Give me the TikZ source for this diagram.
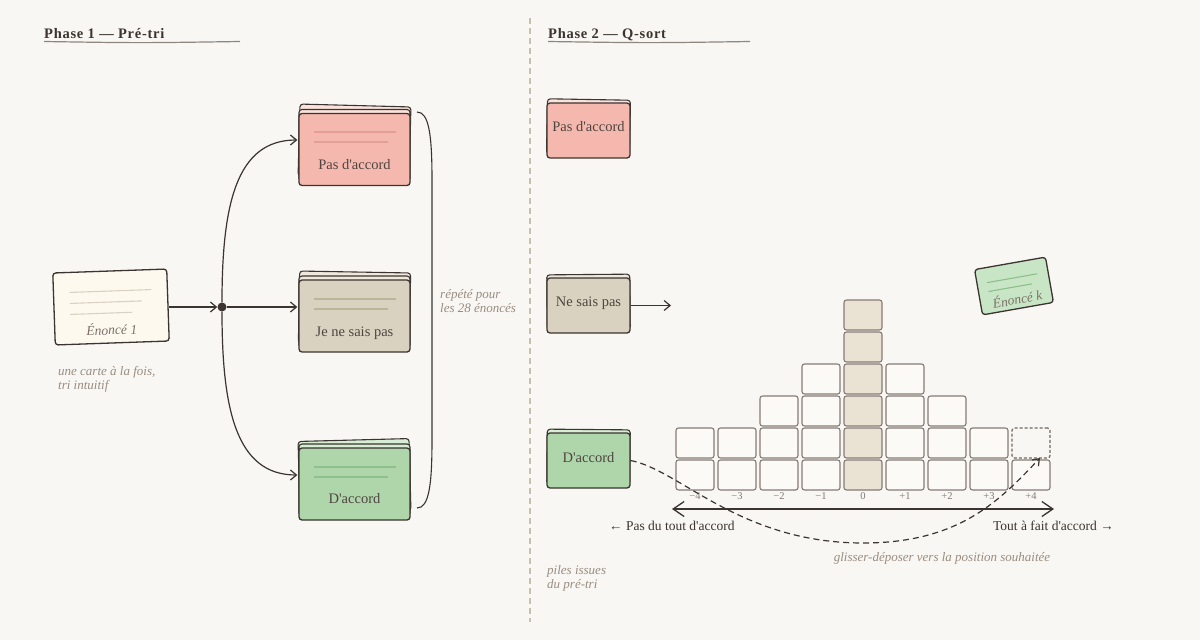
\documentclass[tikz,border=0pt]{standalone}
\usepackage{fontspec}
\setmainfont{Liberation Serif}[Ligatures=TeXOff]
\newfontfamily\headfont[LetterSpace=5,Ligatures=TeXOff]{Liberation Serif}
\usetikzlibrary{arrows.meta,calc}
\definecolor{bg}{HTML}{F8F7F3}
\definecolor{ink}{HTML}{3B3430}
\definecolor{txt}{HTML}{4E4540}
\definecolor{muted}{HTML}{9A8C80}
\definecolor{rulec}{HTML}{8E867F}
\definecolor{sepc}{HTML}{C4C1AC}
\definecolor{pinkF}{HTML}{F5B8AE}
\definecolor{pinkB}{HTML}{FBE2DC}
\definecolor{pinkL}{HTML}{E4A096}
\definecolor{beigeF}{HTML}{D9D2C0}
\definecolor{beigeB}{HTML}{EEE9DC}
\definecolor{beigeL}{HTML}{BDB599}
\definecolor{greenF}{HTML}{AFD5AB}
\definecolor{greenB}{HTML}{D7EDD4}
\definecolor{greenL}{HTML}{8DC08A}
\definecolor{ivory}{HTML}{FDF9EF}
\definecolor{ivoryL}{HTML}{D8D2C2}
\definecolor{gridD}{HTML}{857C75}
\definecolor{cellF}{HTML}{FBFAF7}
\definecolor{zeroF}{HTML}{EAE3D4}
\definecolor{kF}{HTML}{C8E6C5}
\definecolor{kL}{HTML}{8DBF8B}
\definecolor{etxt}{HTML}{7B716A}
\tikzset{
  cardA/.style={draw=ink, line width=1.3pt, rounded corners=3pt, minimum width=111pt, minimum height=72pt, inner sep=0pt},
  cardBk/.style={cardA, line width=1.1pt},
  cardB/.style={cardA, minimum width=83pt, minimum height=55pt},
  cardBb/.style={cardB, line width=1.1pt},
  deco/.style={line width=1.1pt},
  ctext/.style={text=txt, font=\fontsize{14.5}{16}\selectfont, inner sep=0pt},
  note/.style={text=muted, font=\fontsize{13}{14}\selectfont\itshape, align=left, inner sep=0pt, anchor=north west},
  arr/.style={draw=ink, line width=1.2pt, -{Straight Barb[length=6pt,width=10pt]}},
  arrtwo/.style={draw=ink, line width=1.3pt, {Straight Barb[length=11pt,width=15pt]}-{Straight Barb[length=11pt,width=15pt]}},
  dragarr/.style={draw=ink, line width=1.2pt, dash pattern=on 6pt off 4pt, -{Straight Barb[length=6pt,width=9pt]}},
  cell/.style={draw=gridD, line width=1.1pt, rounded corners=2.5pt, fill=cellF, minimum width=38pt, minimum height=30pt, inner sep=0pt},
  glab/.style={text=gridD, font=\fontsize{10.5}{12}\selectfont, inner sep=0pt},
  head/.style={text=ink, font={\headfont\bfseries\fontsize{14.5}{17}\selectfont}, inner sep=0pt, anchor=base west},
  axtext/.style={text=ink, font=\fontsize{13.5}{15}\selectfont, inner sep=0pt},
}
\begin{document}
\begin{tikzpicture}[x=1pt,y=-1pt]
\useasboundingbox (0,0) rectangle (1200,640);
\fill[bg] (0,0) rectangle (1200,640);

% separator
\draw[sepc, line width=1.5pt, dash pattern=on 6pt off 4pt] (530,18) -- (530,622);

% headers
\node[head] (h1) at (44,38) {Phase 1 — Pré-tri};
\draw[rulec, line width=1.2pt] (44,41.5) .. controls (140,43) .. (240,41.5);
\node[head] (h2) at (548,38) {Phase 2 — Q-sort};
\draw[rulec, line width=1.2pt] (548,41.5) .. controls (650,43) .. (750,41.5);

% ===== Phase 1 =====
\begin{scope}[shift={(111,307)}, rotate=2, transform shape]
  \node[cardA, fill=ivory, minimum width=114pt, minimum height=72pt] (e1) at (0,0) {};
  \draw[ivoryL, deco] (-41,-16) -- (41,-16);
  \draw[ivoryL, deco] (-41,-5) -- (31,-5);
  \draw[ivoryL, deco] (-41,6) -- (21,6);
  \node[ctext, text=etxt, font=\fontsize{13.5}{15}\selectfont\itshape] (e1t) at (0,22) {Énoncé 1};
\end{scope}

\node[note] (n1) at (58,366) {une carte à la fois,\\tri intuitif};

% stacks
\node[cardBk, fill=pinkB, rotate=-1.5] (paB2) at (354.5,141.5) {};
\node[cardBk, fill=pinkB] (paB1) at (354.5,145.5) {};
\node[cardA, fill=pinkF] (pa) at (354.5,149.5) {};
\draw[pinkL, deco] (314,132) -- (396,132);
\draw[pinkL, deco] (314,142) -- (388,142);
\node[ctext] (pat) at (354.5,165) {Pas d'accord};

\node[cardBk, fill=beigeB, rotate=-1] (nsB2) at (354.5,308) {};
\node[cardBk, fill=beigeB] (nsB1) at (354.5,312) {};
\node[cardA, fill=beigeF] (ns) at (354.5,316) {};
\draw[beigeL, deco] (314,299) -- (396,299);
\draw[beigeL, deco] (314,309) -- (388,309);
\node[ctext] (nst) at (354.5,333) {Je ne sais pas};

\node[cardBk, fill=greenB, rotate=1.5] (daB2) at (354.5,476) {};
\node[cardBk, fill=greenB] (daB1) at (354.5,480) {};
\node[cardA, fill=greenF] (da) at (354.5,484) {};
\draw[greenL, deco] (314,467) -- (396,467);
\draw[greenL, deco] (314,477) -- (388,477);
\node[ctext] (dat) at (354.5,499) {D'accord};

% hub and arrows
\node[circle, fill=ink, inner sep=0pt, minimum size=9pt] (hub) at (222,307) {};
\coordinate (e1out) at (e1.east |- hub);
\draw[arr] (e1out) -- (hub.west);
\coordinate (pain) at ($(pa.west)+(-1,-9.5)$);
\coordinate (dain) at ($(da.west)+(-1,-9)$);
\draw[arr] (hub) .. controls (222,205) and (236,140) .. (pain);
\draw[arr] (hub) .. controls (222,409) and (236,475) .. (dain);
\draw[arr] (hub) -- ($(hub -| ns.west)+(-1,0)$);

% bracket
\draw[ink, line width=1.1pt] (417,112) .. controls (429,112) and (432,135) .. (432,180) -- (432,440) .. controls (432,485) and (429,508) .. (417,508);
\node[note] (n2) at (440,289) {répété pour\\les 28 énoncés};

% ===== Phase 2 =====
\node[cardBb, fill=pinkB, rotate=-1] (pa2B) at (588.5,127) {};
\node[cardB, fill=pinkF] (pa2) at (588.5,130.5) {};
\node[ctext] (pa2t) at (588.5,127) {Pas d'accord};

\node[cardBb, fill=beigeB, rotate=0.5] (ns2B) at (588.5,302) {};
\node[cardB, fill=beigeF] (ns2) at (588.5,305.5) {};
\node[ctext] (ns2t) at (588.5,303) {Ne sais pas};
\coordinate (nsend) at (671,305.5);
\draw[arr] (ns2.east) -- (nsend);

\node[cardBb, fill=greenB, rotate=-0.5] (da2B) at (588.5,457) {};
\node[cardB, fill=greenF] (da2) at (588.5,460.5) {};
\node[ctext] (da2t) at (588.5,458) {D'accord};

\node[note] (n3) at (547,565) {piles issues\\du pré-tri};

% grid
\foreach \h/\i in {2/1,2/2,3/3,4/4,4/6,3/7,2/8} {
  \foreach \r in {1,...,\h} {
    \node[cell] (g\i-\r) at ({695+42*(\i-1)},{475-32*(\r-1)}) {};
  }
}
\foreach \r in {1,...,6} {
  \node[cell, fill=zeroF] (g5-\r) at (863,{475-32*(\r-1)}) {};
}
\node[cell] (g9-1) at (1031,475) {};
\node[cell, fill=none, draw=gridD!85!black, line width=1.3pt, dash pattern=on 3pt off 2pt] (g9-2) at (1031,443) {};

\foreach \lab [count=\i] in {−4,−3,−2,−1,0,+1,+2,+3,+4} {
  \node[glab] (lab\i) at ({695+42*(\i-1)},496) {\lab};
}

% axis
\coordinate (axl) at (672,509);
\coordinate (axr) at (1054,509);
\draw[arrtwo] (axl) -- (axr);
\node[axtext, anchor=west] (axlt) at (609,526) {← Pas du tout d'accord};
\node[axtext, anchor=east] (axrt) at (1114,526) {Tout à fait d'accord →};

% drag curve
\coordinate (slot) at (1040,458);
\draw[dragarr] (da2.east) .. controls (680,470) and (740,543) .. (863,543) .. controls (960,543) and (1000,500) .. (slot);
\node[note, anchor=center] (n4) at (942,558) {glisser-déposer vers la position souhaitée};

% Énoncé k
\begin{scope}[shift={(1014,286)}, rotate=10, transform shape]
  \node[cardA, fill=kF, minimum width=72pt, minimum height=46pt] (ek) at (0,0) {};
  \draw[kL, deco] (-26,-8) -- (25,-8);
  \draw[kL, deco] (-26,1) -- (18,1);
  \node[ctext, text=etxt, font=\fontsize{13.5}{15}\selectfont\itshape] (ekt) at (1,13) {Énoncé k};
\end{scope}
\end{tikzpicture}
\end{document}
